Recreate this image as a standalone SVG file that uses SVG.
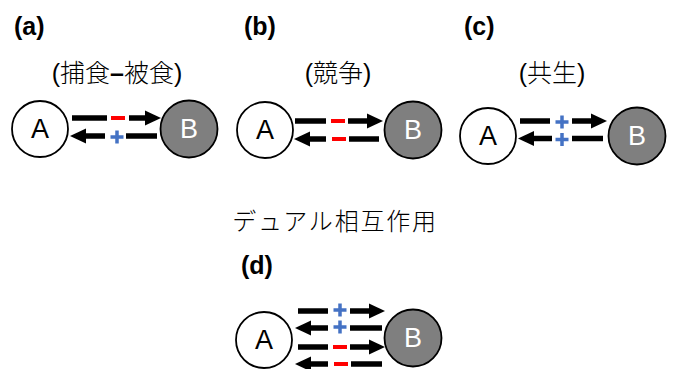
<svg xmlns="http://www.w3.org/2000/svg" width="673" height="369" viewBox="0 0 673 369">
<style>
.bg{fill:#fff}
.nA{fill:#fff;stroke:#000;stroke-width:1.8}
.nB{fill:#7f7f7f;stroke:#000;stroke-width:1.8}
.tA{font-family:"Liberation Sans",Arial,sans-serif;font-size:27px;fill:#000;text-anchor:middle;dominant-baseline:central}
.tB{font-family:"Liberation Sans",Arial,sans-serif;font-size:27px;fill:#fff;text-anchor:middle;dominant-baseline:central}
.lab{font-family:"Liberation Sans",Arial,sans-serif;font-size:25px;font-weight:bold;fill:#000}
.jp{font-family:"Liberation Sans","Noto Sans CJK JP",sans-serif;font-size:25px;font-weight:300;fill:#000;text-anchor:middle}
.ar{stroke:#000;stroke-width:5.5;fill:none;marker-end:url(#hd)}
.ln{stroke:#000;stroke-width:5.5;fill:none}
.mi{stroke:#ff0000;stroke-width:4;fill:none}
.pl{stroke:#4472c4;stroke-width:3.5;fill:none}
</style>
<defs>
<marker id="hd" markerUnits="userSpaceOnUse" markerWidth="16" markerHeight="15" refX="0" refY="7.5" orient="auto" overflow="visible">
<path d="M0,0 L16,7.5 L0,15 z" fill="#000"/>
</marker>
</defs>
<rect class="bg" x="0" y="0" width="673" height="369"/>

<g id="labels">
<text class="lab" x="14" y="35">(a)</text>
<text class="jp" x="117" y="82">(捕食<tspan font-weight="bold">–</tspan>被食)</text>
<text class="lab" x="244" y="35">(b)</text>
<text class="jp" x="338" y="82">(競争)</text>
<text class="lab" x="464" y="35">(c)</text>
<text class="jp" x="552" y="82">(共生)</text>
<text class="jp" x="335" y="230" style="font-size:24px;letter-spacing:1.8px">デュアル相互作用</text>
<text class="lab" x="241" y="274">(d)</text>
</g>

<g id="nodeA_a"><circle class="nA" cx="40" cy="129" r="28"/><text class="tA" x="40" y="129">A</text></g>
<g id="nodeB_a"><circle class="nB" cx="189" cy="129" r="28.5"/><text class="tB" x="189" y="129">B</text></g>
<g id="nodeA_b"><circle class="nA" cx="265" cy="130" r="28"/><text class="tA" x="265" y="130">A</text></g>
<g id="nodeB_b"><circle class="nB" cx="413" cy="130" r="28.5"/><text class="tB" x="413" y="130">B</text></g>
<g id="nodeA_c"><circle class="nA" cx="488" cy="136" r="28"/><text class="tA" x="488" y="136">A</text></g>
<g id="nodeB_c"><circle class="nB" cx="637" cy="136" r="28.5"/><text class="tB" x="637" y="136">B</text></g>
<g id="nodeA_d"><circle class="nA" cx="264" cy="340" r="28"/><text class="tA" x="264" y="340">A</text></g>
<g id="nodeB_d"><circle class="nB" cx="413" cy="338" r="28.5"/><text class="tB" x="413" y="338">B</text></g>

<g id="connectors">
<!-- (a) -->
<line class="ln" x1="72" y1="118" x2="107" y2="118"/>
<line class="mi" x1="111" y1="118" x2="125" y2="118"/>
<line class="ar" x1="129" y1="118" x2="145" y2="118"/>
<line class="ar" x1="105" y1="136" x2="86" y2="136"/>
<path class="pl" d="M110.5,137 H123.5 M117,130.5 V143.5"/>
<line class="ln" x1="126" y1="136" x2="157" y2="136"/>
<!-- (b) -->
<line class="ln" x1="295" y1="121" x2="326" y2="121"/>
<line class="mi" x1="331" y1="121" x2="345" y2="121"/>
<line class="ar" x1="348" y1="121" x2="367" y2="121"/>
<line class="ar" x1="326" y1="139" x2="310" y2="139"/>
<line class="mi" x1="332" y1="139" x2="346" y2="139"/>
<line class="ln" x1="349" y1="139" x2="379" y2="139"/>
<!-- (c) -->
<line class="ln" x1="520" y1="121" x2="550" y2="121"/>
<path class="pl" d="M555.5,122 H568.5 M562,115.5 V128.5"/>
<line class="ar" x1="572" y1="121" x2="591" y2="121"/>
<line class="ar" x1="552" y1="138.5" x2="534" y2="138.5"/>
<path class="pl" d="M555.5,139.5 H568.5 M562,133 V146"/>
<line class="ln" x1="572" y1="138.5" x2="603" y2="138.5"/>
<!-- (d) -->
<line class="ln" x1="298" y1="311" x2="328" y2="311"/>
<path class="pl" d="M333.5,310 H346.5 M340,303.5 V316.5"/>
<line class="ar" x1="350" y1="311" x2="369" y2="311"/>
<line class="ar" x1="328" y1="328" x2="311" y2="328"/>
<path class="pl" d="M333.5,327 H346.5 M340,320.5 V333.5"/>
<line class="ln" x1="350" y1="328" x2="382" y2="328"/>
<line class="ln" x1="298" y1="347" x2="328" y2="347"/>
<line class="mi" x1="333" y1="347" x2="347" y2="347"/>
<line class="ar" x1="350" y1="347" x2="369" y2="347"/>
<line class="ar" x1="328" y1="364" x2="311" y2="364"/>
<line class="mi" x1="334" y1="364" x2="348" y2="364"/>
<line class="ln" x1="351" y1="364" x2="382" y2="364"/>
</g>
</svg>
